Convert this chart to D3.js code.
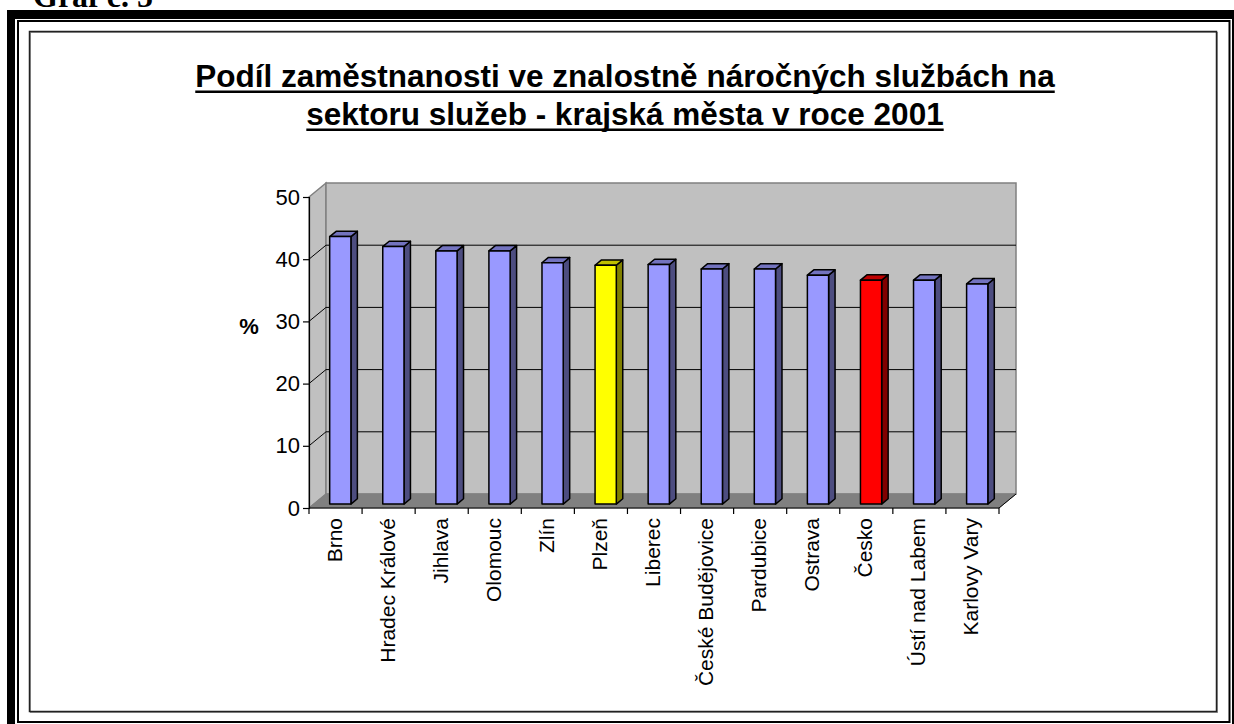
<!DOCTYPE html>
<html>
<head>
<meta charset="utf-8">
<script src="https://cdn.jsdelivr.net/npm/d3@7"></script>
<style>
  body { margin: 0; background: #fff; }
  svg { display: block; }
</style>
</head>
<body>
<div id="chart"></div>
<script>
var cities = ["Brno", "Hradec Králové", "Jihlava", "Olomouc", "Zlín", "Plzeň", "Liberec",
    "České Budějovice", "Pardubice", "Ostrava", "Česko", "Ústí nad Labem", "Karlovy Vary"];
var shares = [43.0, 41.4, 40.7, 40.7, 38.8, 38.4, 38.5, 37.8, 37.8, 36.8, 36.0, 36.0, 35.4];
var yTicks = [0, 10, 20, 30, 40, 50];
var titleLines = ["Podíl zaměstnanosti ve znalostně náročných službách na",
    "sektoru služeb - krajská města v roce 2001"];

var W = 1234, H = 724;
var plot = {left: 309, right: 999, bottom: 508, top: 197};
var depth = {dx: 17, dy: -14};       // 3d offset of the back wall
var barFront = 0.28, barBack = 0.66; // bar position inside the depth

// face colours: front, side, top
var colors = {
    normal: ["#9999ff", "#4d4d80", "#7373bf"],
    "Plzeň": ["#ffff00", "#808000", "#bfbf00"],
    "Česko": ["#ff0000", "#800000", "#bf0000"]
};

var svg = d3.select("#chart").append("svg")
    .attr("width", W)
    .attr("height", H);

// page frame (caption sits half above the page edge, as in the scan)
svg.append("text")
    .attr("x", 33).attr("y", 7)
    .style("font-family", "'Liberation Serif', serif")
    .style("font-size", "32px")
    .style("font-weight", "bold")
    .text("Graf č. 5");

svg.append("rect").attr("x", 7).attr("y", 10).attr("width", W - 7).attr("height", 9).attr("fill", "#000");
svg.append("rect").attr("x", 7).attr("y", 10).attr("width", 8).attr("height", H - 10).attr("fill", "#000");
svg.append("rect").attr("x", 18).attr("y", 21).attr("width", 1211.5).attr("height", 701)
    .attr("fill", "none").attr("stroke", "#000").attr("stroke-width", 2);
svg.append("line").attr("x1", 1233).attr("x2", 1233).attr("y1", 10).attr("y2", H)
    .attr("stroke", "#000").attr("stroke-width", 2);

// chart area box
svg.append("rect").attr("x", 30.5).attr("y", 32.5).attr("width", 1187).attr("height", 680)
    .attr("fill", "none").attr("stroke", "#999").attr("stroke-width", 1);
svg.append("rect").attr("x", 29.5).attr("y", 31.5).attr("width", 1187).attr("height", 680)
    .attr("fill", "none").attr("stroke", "#222").attr("stroke-width", 1.5);

// title
var title = svg.append("g");
titleLines.forEach(function(t, i) {
    var txt = title.append("text")
        .attr("x", 625)
        .attr("y", 87 + i * 38)
        .attr("text-anchor", "middle")
        .style("font-family", "'Liberation Sans', Arial, sans-serif")
        .style("font-size", "31.5px")
        .style("font-weight", "bold")
        .text(t);
    var w = txt.node().getComputedTextLength();
    title.append("rect")
        .attr("x", 625 - w / 2)
        .attr("y", 90.5 + i * 38)
        .attr("width", w)
        .attr("height", 2.5)
        .attr("fill", "#000");
});

var x = d3.scaleBand()
    .domain(cities)
    .range([plot.left, plot.right])
    .paddingInner(0.6)
    .paddingOuter(0.3);

var y = d3.scaleLinear()
    .domain([0, 50])
    .range([plot.bottom, plot.top]);

function pt(px, py, f) {
    return [px + depth.dx * f, py + depth.dy * f];
}
function poly(points) {
    return points.map(function(p) { return p[0] + "," + p[1]; }).join(" ");
}

var step = x.step();
var x0 = plot.left, x1 = plot.right;
var yb = y(0), yt = y(50);

// walls and floor
svg.append("polygon")
    .attr("points", poly([pt(x0, yt, 0), pt(x0, yt, 1), pt(x0, yb, 1), pt(x0, yb, 0)]))
    .attr("fill", "#c0c0c0").attr("stroke", "#808080").attr("stroke-width", 1.5);
svg.append("polygon")
    .attr("points", poly([pt(x0, yt, 1), pt(x1, yt, 1), pt(x1, yb, 1), pt(x0, yb, 1)]))
    .attr("fill", "#c0c0c0").attr("stroke", "#808080").attr("stroke-width", 1.5);
svg.append("polygon")
    .attr("points", poly([pt(x0, yb, 0), pt(x0, yb, 1), pt(x1, yb, 1), pt(x1, yb, 0)]))
    .attr("fill", "#808080").attr("stroke", "#808080").attr("stroke-width", 1);

// gridlines
yTicks.filter(function(d) { return d > 0 && d < 50; }).forEach(function(d) {
    var a = pt(x0, y(d), 0), b = pt(x0, y(d), 1), c = pt(x1, y(d), 1);
    svg.append("polyline")
        .attr("points", poly([a, b, c]))
        .attr("fill", "none").attr("stroke", "#000").attr("stroke-width", 1);
});

// bars
var bars = svg.append("g");
cities.forEach(function(c, i) {
    var col = colors[c] || colors.normal;
    var bx0 = x(c), bx1 = x(c) + x.bandwidth();
    var top = y(shares[i]), base = y(0);
    var front = [pt(bx0, top, barFront), pt(bx1, top, barFront), pt(bx1, base, barFront), pt(bx0, base, barFront)];
    var side = [pt(bx1, top, barFront), pt(bx1, top, barBack), pt(bx1, base, barBack), pt(bx1, base, barFront)];
    var lid = [pt(bx0, top, barFront), pt(bx0, top, barBack), pt(bx1, top, barBack), pt(bx1, top, barFront)];
    [[side, col[1]], [lid, col[2]], [front, col[0]]].forEach(function(f) {
        bars.append("polygon")
            .attr("points", poly(f[0]))
            .attr("fill", f[1])
            .attr("stroke", "#000")
            .attr("stroke-width", 1.5)
            .attr("stroke-linejoin", "round");
    });
});

// y axis
var yAxis = svg.append("g")
    .attr("transform", "translate(" + plot.left + ",0)")
    .call(d3.axisLeft(y).tickValues(yTicks).tickSize(6).tickPadding(3));
yAxis.select(".domain").attr("stroke", "#000").attr("stroke-width", 1.2);
yAxis.selectAll(".tick line").attr("stroke", "#000").attr("stroke-width", 1.2);
yAxis.selectAll(".tick text")
    .style("font-family", "'Liberation Sans', Arial, sans-serif")
    .style("font-size", "22px")
    .attr("fill", "#000");

svg.append("text")
    .attr("x", 249).attr("y", 334)
    .attr("text-anchor", "middle")
    .style("font-family", "'Liberation Sans', Arial, sans-serif")
    .style("font-size", "22px")
    .style("font-weight", "bold")
    .text("%");

// x axis: front floor edge, ticks at category boundaries, labels
svg.append("line")
    .attr("x1", x0).attr("x2", x1).attr("y1", yb).attr("y2", yb)
    .attr("stroke", "#000").attr("stroke-width", 1.2);
d3.range(cities.length + 1).forEach(function(i) {
    var tx = x0 + i * step;
    svg.append("line")
        .attr("x1", tx).attr("x2", tx).attr("y1", yb).attr("y2", yb + 6)
        .attr("stroke", "#000").attr("stroke-width", 1.2);
});
svg.append("line")
    .attr("x1", x1).attr("y1", yb)
    .attr("x2", x1 + depth.dx).attr("y2", yb + depth.dy)
    .attr("stroke", "#000").attr("stroke-width", 1);

svg.append("g").selectAll("text")
    .data(cities)
    .enter()
    .append("text")
        .attr("transform", function(d) {
            return "translate(" + (x(d) + x.bandwidth() / 2 + 6) + "," + (yb + 10) + ") rotate(-90)";
        })
        .attr("text-anchor", "end")
        .style("font-family", "'Liberation Sans', Arial, sans-serif")
        .style("font-size", "21px")
        .text(function(d) { return d; });
</script>
</body>
</html>
